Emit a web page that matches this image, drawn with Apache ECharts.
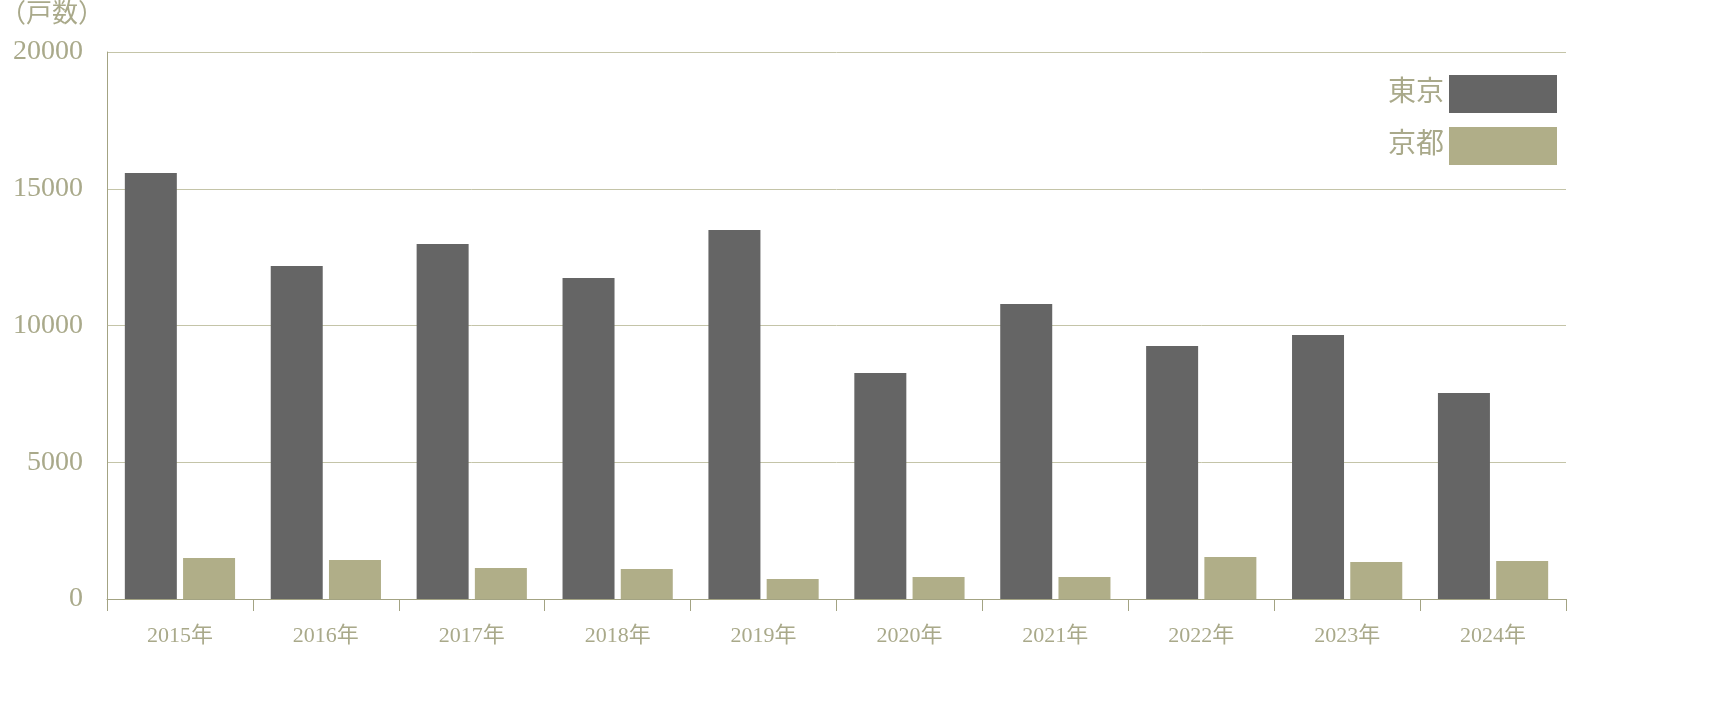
<!DOCTYPE html>
<html><head><meta charset="utf-8">
<script src="https://cdn.jsdelivr.net/npm/echarts@6/dist/echarts.min.js"></script>
<style>html,body{margin:0;padding:0;background:#fff}#c{width:1716px;height:709px}</style>
</head><body><div id="c"></div>
<script>
const categories=['2015年','2016年','2017年','2018年','2019年','2020年','2021年','2022年','2023年','2024年'];
const tokyo=[15580,12180,12980,11740,13490,8260,10790,9250,9650,7530];
const kyoto=[1500,1430,1130,1100,730,800,800,1540,1350,1390];
const yTicks=[0,5000,10000,15000,20000];
const txt='#a9a98a', line='#a3a383';
const font='"Liberation Serif","DejaVu Serif","Noto Sans CJK JP",serif';
const chart=echarts.init(document.getElementById('c'));
chart.setOption({
  animation:false,
  textStyle:{fontFamily:font},
  graphic:[{type:'text',left:0,top:2,style:{text:'（戸数）',fill:txt,font:'26px '+font}}],
  legend:{right:154,top:70,orient:'vertical',align:'right',icon:'rect',itemWidth:108,itemHeight:38,itemGap:14,
    textStyle:{color:txt,fontSize:28,fontFamily:font},data:['東京','京都']},
  grid:{left:107,right:150,top:52,bottom:110},
  xAxis:{type:'category',data:categories,
    axisLine:{lineStyle:{color:line,width:1}},
    axisTick:{show:true,length:12,inside:false,lineStyle:{color:line}},
    axisLabel:{color:txt,fontSize:22,margin:26,fontFamily:font}},
  yAxis:{type:'value',min:0,max:20000,interval:5000,
    axisLine:{show:true,lineStyle:{color:line}},axisTick:{show:false},
    splitLine:{lineStyle:{color:'#c4c4a8'}},
    axisLabel:{color:txt,fontSize:28,margin:24,fontFamily:font,
      formatter:v=>yTicks.includes(v)?String(v):''}},
  series:[
    {name:'東京',type:'bar',data:tokyo,barWidth:52,barGap:'12%',itemStyle:{color:'#656565'}},
    {name:'京都',type:'bar',data:kyoto,barWidth:52,itemStyle:{color:'#b0ae88'}}
  ]
});
</script></body></html>
